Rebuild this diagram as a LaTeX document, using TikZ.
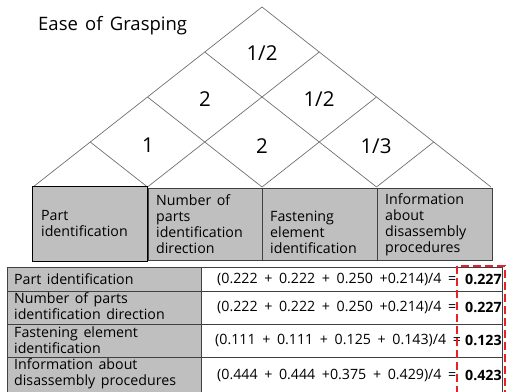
\documentclass[tikz,border=0pt]{standalone}
\usepackage{fontspec}
\setmainfont{Open Sans}[WordSpace=1.5]
\newfontfamily\formulafont{Open Sans}[WordSpace=1.8]
\usetikzlibrary{calc}
\definecolor{boxgray}{HTML}{BFBFBF}
\definecolor{latt}{HTML}{707070}
\definecolor{redd}{HTML}{E8202A}
\tikzset{
  lattline/.style={draw=latt, line width=0.7pt},
  boxnode/.style={draw=black!75, fill=boxgray, line width=0.9pt, rectangle, inner sep=0pt, anchor=north west},
  boxtext/.style={anchor=west, align=left, inner sep=0pt, font=\fontsize{14.2}{16}\selectfont},
  numtext/.style={inner sep=0pt, font=\fontsize{20.5}{22}\selectfont},
  cellg/.style={draw=black!75, fill=boxgray, line width=0.9pt, rectangle, inner sep=0pt, anchor=north west},
  cellw/.style={draw=black!75, fill=white, line width=0.9pt, rectangle, inner sep=0pt, anchor=north west},
  celltext/.style={anchor=west, align=left, inner sep=0pt, font=\fontsize{14.2}{16}\selectfont},
  formtext/.style={anchor=west, inner sep=0pt, font=\formulafont\fontsize{14.2}{16}\selectfont},
  valtext/.style={celltext, font=\fontsize{14.2}{16}\selectfont\bfseries},
  redbox/.style={draw=redd, line width=2.6pt, dash pattern=on 8pt off 4pt},
}
\begin{document}
\begin{tikzpicture}[x=1pt,y=-1pt]
\useasboundingbox (0,0) rectangle (508,391);
% lattice
\coordinate (A) at (262,7);
\foreach \i in {0,...,4}{
  \coordinate (L\i) at ($(262,7)+(-57.25*\i,45*\i)$);
  \coordinate (R\i) at ($(262,7)+(57.25*\i,45*\i)$);
}
\foreach \i in {0,...,3}{
  \draw[lattline] (L\i) -- ($(L\i)+(57.25*4-57.25*\i,180-45*\i)$);
  \draw[lattline] (R\i) -- ($(R\i)+(-57.25*4+57.25*\i,180-45*\i)$);
}
% title and numbers
\node[anchor=base west, inner sep=0pt, font=\fontsize{18.5}{20}\selectfont] (title) at (38,30) {Ease of Grasping};
\node[numtext] (n1) at (262,53) {1/2};
\node[numtext] (n2) at (205,99) {2};
\node[numtext] (n3) at (319,99) {1/2};
\node[numtext] (n4) at (148,145) {1};
\node[numtext] (n5) at (262,146) {2};
\node[numtext] (n6) at (376,146) {1/3};
% boxes
\node[boxnode, minimum width=115pt, minimum height=72pt] (b2) at (147.5,188) {};
\node[boxnode, minimum width=115pt, minimum height=72pt] (b3) at (262,188) {};
\node[boxnode, minimum width=115pt, minimum height=72pt] (b4) at (377,188) {};
\node[boxnode, draw=black, line width=1.4pt, minimum width=115pt, minimum height=75pt] (b1) at (32,186) {};
\node[boxtext] (t1) at (41,223) {Part\\identification};
\node[boxtext] (t2) at (156,224.5) {Number of\\parts\\identification\\direction};
\node[boxtext] (t3) at (270,232.5) {Fastening\\element\\identification};
\node[boxtext] (t4) at (385,224.5) {Information\\about\\disassembly\\procedures};
% table
\node[cellg, minimum width=194pt, minimum height=24pt] (c1l) at (7,267) {};
\node[cellg, minimum width=194pt, minimum height=33pt] (c2l) at (7,291) {};
\node[cellg, minimum width=194pt, minimum height=33pt] (c3l) at (7,324) {};
\node[cellg, minimum width=194pt, minimum height=36pt] (c4l) at (7,357) {};
\node[cellw, minimum width=301pt, minimum height=24pt] (c1r) at (201,267) {};
\node[cellw, minimum width=301pt, minimum height=33pt] (c2r) at (201,291) {};
\node[cellw, minimum width=301pt, minimum height=33pt] (c3r) at (201,324) {};
\node[cellw, minimum width=301pt, minimum height=36pt] (c4r) at (201,357) {};
\node[celltext] (l1) at (14,279) {Part identification};
\node[celltext] (l2) at (14,306.5) {Number of parts\\identification direction};
\node[celltext] (l3) at (14,340) {Fastening element\\identification};
\node[celltext] (l4) at (14,374) {Information about\\disassembly procedures};
\node[formtext] (f1) at (217,279) {(0.222 + 0.222 + 0.250 +0.214)/4 =};
\node[formtext] (f2) at (217,307) {(0.222 + 0.222 + 0.250 +0.214)/4 =};
\node[formtext] (f3) at (215,340) {(0.111 + 0.111 + 0.125 + 0.143)/4 =};
\node[formtext] (f4) at (217,375) {(0.444 + 0.444 +0.375 + 0.429)/4 =};
\node[valtext] (v1) at (465,279) {0.227};
\node[valtext] (v2) at (465,307) {0.227};
\node[valtext] (v3) at (465,340) {0.123};
\node[valtext] (v4) at (465,375) {0.423};
\draw[redbox] (457,266) rectangle (505,398);
\end{tikzpicture}
\end{document}
